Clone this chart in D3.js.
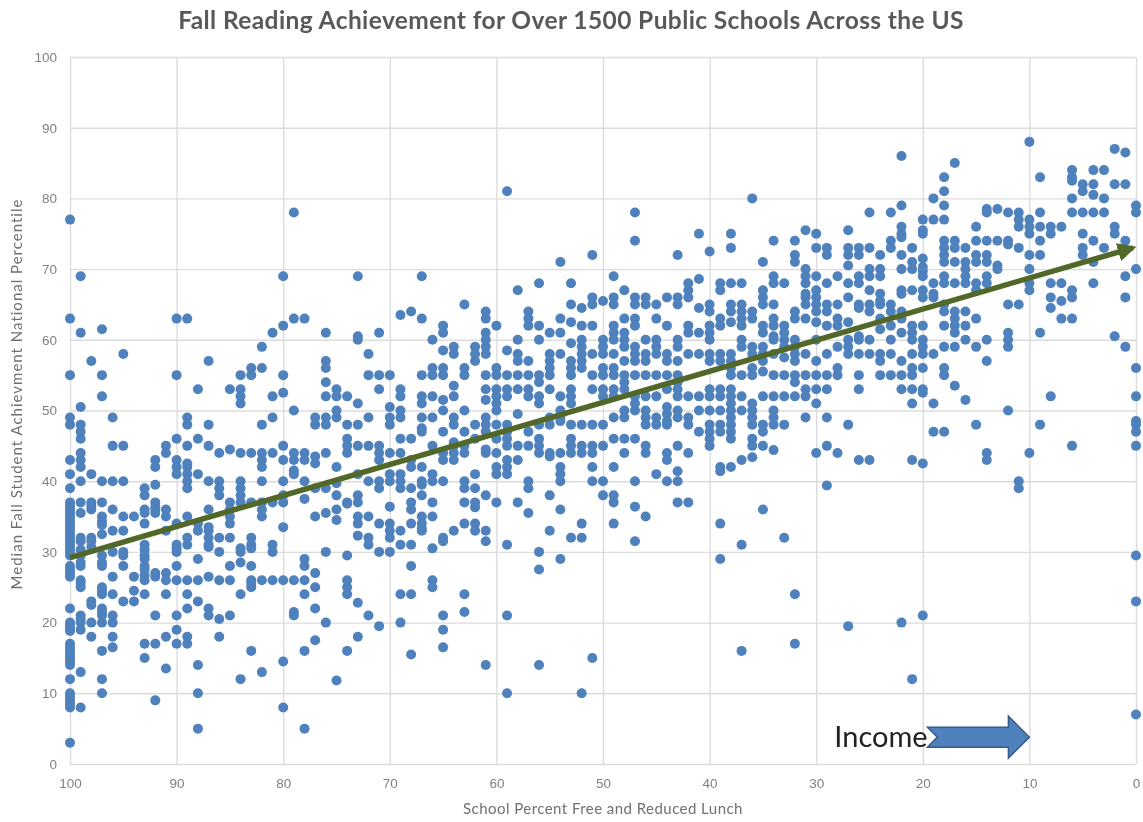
<!DOCTYPE html>
<meta charset="utf-8">
<style>
body { margin: 0; background: #fff; }
svg { display: block; font-family: Lato, "Open Sans", sans-serif; filter: blur(0.45px); }
.grid line { stroke: #dcdcdc; stroke-width: 1.4px; }
.grid path { display: none; }
.grid text { fill: #808080; font-size: 13.5px; }
.title { fill: #595959; font-size: 24.5px; font-weight: bold; text-anchor: middle; letter-spacing: 0.4px; }
.axis-title { fill: #707070; font-size: 15px; text-anchor: middle; letter-spacing: 0.45px; }
.y-title { letter-spacing: 1px; }
</style>
<body>
<script src="https://d3js.org/d3.v7.min.js"></script>
<script>

var width = 1143,
    height = 822;

var margin = {top: 57, right: 7, bottom: 58, left: 70};

var xTicks = [100, 90, 80, 70, 60, 50, 40, 30, 20, 10, 0];
var yTicks = [0, 10, 20, 30, 40, 50, 60, 70, 80, 90, 100];

// one entry per whole percent of free/reduced lunch
var lunchPercent = d3.range(100, -1, -1);

var percentiles = [
  [77,63,55,49,48,43,41,39,37,36.5,36,35.5,35,34.5,34,33.5,33,32.5,32,31.5,31,30.5,30,29.5,28,27.5,27,26.5,22,20,19.5,19,18.8,17,16.5,16,15.5,15,14.5,14,12,10,9.5,9,8.5,8,3],
  [69,61,50.5,48,47,46,44,43,42,40,37,35.5,32,31.5,30.3,29.5,28.5,28,26,25.5,25,21,20.5,20,19,13,8],
  [57,41,37,36.5,36,32,31.5,30.7,23,22.5,20,18],
  [61.5,55,52,40,37,35,34.3,33.8,32.5,29.5,28.5,28,25,24.5,24,22,21.5,21,20,16,12,10],
  [49,45,40,36,33,30,26.5,24,21,20,18,16.5],
  [58,45,40,35,33,30,29.5,28,23],
  [35,26.5,24.5,23],
  [39,38,36,35.5,34,31,30.3,29.5,29,28,27.5,26.7,26,24,17,15],
  [43,42,39.5,37,36.3,36,35.5,27,26.5,21,17,9],
  [45,44,36,35,33,27,26,24,18,13.5],
  [63,55,46,43,42,41,34,31,30.5,30,28,26,21,19,17],
  [63,49,48,45,42.5,42,41,40,39,35,32,31,26,24,22,18,17],
  [53,46,41,34,33,29,26,23,14,10,5],
  [57,48,45,40,36,33.5,33,32,31,30.7,26.5,22,21],
  [44,40,39,38,32,30,26,20.5,18],
  [53,44.5,37,36,35,34,32,28,26,21],
  [55,53,52,51,44,40,39,38,37,30.5,30,28.5,24,12],
  [56,55,44,37,32,31,30.5,28,26,25.5,25,16],
  [59,56,48,44,43,42,40,37,36,35,26,13],
  [61,52,49,44,37,31,30,26],
  [69,62,55,52.5,45,43,40,38,37,33.5,26,14.5,8],
  [78,63,50,44,43,41.5,41,26,21.5,21],
  [63,44,43,40,37.5,29,28,26,24,16,5],
  [49,48,43.5,42.5,39,35,27,25,22,17.5],
  [61,57,56,54,52,49,48,44,39,35.5,30,20],
  [53,52,50,49,42,39.7,38,36,34.5,11.8],
  [52,48,46,45,44,37,36.8,29.5,26,25,24,16],
  [69,60.5,60,51,48,45,41,38,37,35,34,32.3,22.8,18],
  [58,55,49,45,40,35,32,31,21],
  [61,55,53,45,44,43,40,39,34,30,19.5],
  [55,50.5,49,48,44,41,40,36.4,34,33,32,30],
  [63.5,53,52,50,49,46,44,41,40,39,33,31,24,20],
  [64,46,43,42,39,37,36,34,31,28,24,15.5],
  [69,63,55,52,51,49,47.5,47,42,40,39.5,38,35,34,33.3,33],
  [60,56,55,52,49,45,41,40,37,35,30.5,26,25],
  [62,61,58.5,56,55,51.5,50,47,44,43,40,32,31.5,21,19,16.5],
  [59,58,53.5,52,49,48,45.5,45,44,43,33],
  [65,56,55,50,47,45,44,40,39,37,34,24,21.5],
  [59,58,57,48,46,41,39,37,36.3,34,33],
  [64,63,61,60,59,58,55,53,51.5,49,48,47,44.5,44,38,33,31.5,14],
  [62,56,55,53,52,51,50,48,46,44,42,41,37],
  [81,58.5,55,53,52,48,47,46,45,43,42,41,31,21,10],
  [67,60,58,57,55,53,49.5,45,43,37],
  [64,63,62,57,55,53,52,47,45,40,39,35.5],
  [68,62,60,55,54,52,51,48,46,45,44,30,27.5,14],
  [61,58,57,56,55,53,49,48,44,43.5,38,33],
  [71,63,61,58,52,50,49,48.5,44,42,41,40,36,29],
  [68,65,62.5,59.5,57,56,55,53,52,51,48,46,45,44,32],
  [64.5,62,60,59,58,57,56,48,45,44,34,32,10],
  [72,66,65,62,58,55,53,48,45,44,42,40,15],
  [65.5,60,59,58,56,55,53,52,48,45,40,38],
  [69,66,65,62,61,60,58,56,55,53,52,49,46,42,38,37,34],
  [67,63,61,60,59,57,55,54,53,50,49,46,44],
  [78,74,66,65,63,62,59,58,57,55,52,51,50,46,40,36.4,31.5],
  [66,65,60,58,57,55,52,50,49,48,45,44,35],
  [65,63,60,59,58,55,52,49,48,41],
  [66,62,58,57,55,53,50.5,49.5,48.5,48,44,43,40],
  [72,66,65,60,59,57,55,54,53,52,50,49,45,41.4,40,37],
  [68,67,66,62,61,58,52,49,48,44,37],
  [75,68.6,64.5,61,58,52,50,47],
  [72.5,65,64,62,61,60,58,57,53,52,50,48,47,46,45],
  [68,67,63,62,58,57,53,52,50,48,47,42,41.4,34,29],
  [75,73,68,65,64,62.5,58,57,56,55,53,52,51,50,49,48,47,46,42],
  [68,65,64,63,62,60,59,55,52,50,43,31,16],
  [80,64,63,59,58,56,55,51,50,49,48,46,45,43.4],
  [71,67,66,65,62,61,59,58,57,55.5,52,48,47,45,36],
  [74,69,68,65,63,62,60.5,60,58,55,52,50,49,48,44.4],
  [68,62,61,60,59,57.5,55,52,48,32],
  [74,72,71,64,63,60,59,58,57,55,54,52,24,17],
  [75.5,70,69,68,66.5,66,65,63,58,55,53,52,49],
  [75,73,69,67,66,65,64,62.5,60,57,55,53,51,44],
  [73,72,68,65,64,62,58,55,53,49,45,39.4],
  [69,65,63,62,59,56,55,44],
  [75.5,73,72,70.5,68,66,62.5,60,59,58,48,19.5],
  [73,72,69,68,65,64.5,60.5,60,58,55,53,43],
  [78,73,70,69,67,65,64,60,58,43],
  [72,70,69,66.5,65.5,65,63,61.5,58,57,55],
  [78,74,73,65,64,62,60,58,55],
  [86,79,76,75,74.5,72,70,67,66.5,64,63,61,57,55,53,20],
  [73,71,70,67,62,61,60,58,56,55,53,51,43,12],
  [77,75.5,75,71.5,70.3,69.7,69,67,66,62,60,59,58,56,53,52.5,42.5,21],
  [80,77,68,66.5,66,58,51,47],
  [83,81,79,77,74,73,72,71,69,68,65,64,62,59,56,55,47],
  [85,74,73,71,68,64,63,62,61,59,53.5],
  [73,71,70,69,68,64,62,60,51.5],
  [76,74,72,71,68,67,63,59,48],
  [78.5,78,74,72,71,69,68,60,57,44,43],
  [78.5,74,70.5,70],
  [78,74,73.5,65,61,60,59,50],
  [78,77,76,73,65,40,39],
  [88,77,76,75,72,70,68,67,44],
  [83,78,76,74,72,61,48],
  [76,75,68,66,64.5,52],
  [76,68,65.5,63],
  [84,83,82.5,80,78,67,66,63,45],
  [82,81,78,75,73,72],
  [84,82,80.5,78,74,71,68],
  [84,80,78,73],
  [87,82,76,75,60.5],
  [86.5,82,74,69,66,59],
  [79,78,70,56,52,48.5,48,47,45,29.5,23,7]
];

var trendX = [100, 0.3];
var trendY = [29.2, 73];

var points = [];
lunchPercent.forEach(function(p, i) {
  percentiles[i].forEach(function(v) { points.push({x: p, y: v}); });
});

var x = d3.scaleLinear()
    .domain([100, 0])
    .range([margin.left, width - margin.right]);

var y = d3.scaleLinear()
    .domain([0, 100])
    .range([height - margin.bottom, margin.top]);

var svg = d3.select("body").append("svg")
    .attr("width", width)
    .attr("height", height);

svg.append("g")
    .attr("class", "grid")
    .attr("transform", "translate(0," + y(0) + ")")
    .call(d3.axisBottom(x).tickValues(xTicks).tickFormat(d3.format("d"))
      .tickSize(-(y(0) - y(100))).tickPadding(14));

svg.append("g")
    .attr("class", "grid")
    .attr("transform", "translate(" + x(100) + ",0)")
    .call(d3.axisLeft(y).tickValues(yTicks).tickFormat(d3.format("d"))
      .tickSize(-(x(0) - x(100))).tickPadding(13));

svg.selectAll("circle.school")
    .data(points)
    .enter()
    .append("circle")
    .attr("class", "school")
    .attr("cx", function(d) { return x(d.x); })
    .attr("cy", function(d) { return y(d.y); })
    .attr("r", 5)
    .style("fill", "#4f81bd");

svg.append("defs").append("marker")
    .attr("id", "head")
    .attr("viewBox", "0 0 10 10")
    .attr("refX", 8)
    .attr("refY", 5)
    .attr("markerWidth", 3.4)
    .attr("markerHeight", 3.4)
    .attr("orient", "auto")
    .append("path")
    .attr("d", "M0,0L10,5L0,10Z")
    .style("fill", "#526829");

svg.append("line")
    .attr("x1", x(trendX[0]))
    .attr("y1", y(trendY[0]))
    .attr("x2", x(trendX[1]))
    .attr("y2", y(trendY[1]))
    .attr("marker-end", "url(#head)")
    .style("stroke", "#526829")
    .style("stroke-width", 5.5);

// block arrow next to the Income label, tip sits on the 10 gridline
var tipX = x(10), midY = y(3.8);
var incomeArrow = [[-102, -10], [-92, 0], [-102, 10], [-21, 10], [-21, 21], [0, 0], [-21, -21], [-21, -10]];

svg.append("polygon")
    .attr("points", incomeArrow.map(function(p) { return (tipX + p[0]) + "," + (midY + p[1]); }).join(" "))
    .style("fill", "#4f81bd")
    .style("stroke", "#385d8a")
    .style("stroke-width", 1.5);

svg.append("text")
    .attr("x", x(28.3))
    .attr("y", y(3.8) + 10)
    .style("font-size", "29px")
    .style("fill", "#222")
    .text("Income");

svg.append("text")
    .attr("class", "title")
    .attr("x", 571)
    .attr("y", 29)
    .text("Fall Reading Achievement for Over 1500 Public Schools Across the US");

svg.append("text")
    .attr("class", "axis-title")
    .attr("x", 603)
    .attr("y", 814)
    .text("School Percent Free and Reduced Lunch");

svg.append("text")
    .attr("class", "axis-title y-title")
    .attr("transform", "translate(22,394) rotate(-90)")
    .text("Median Fall Student Achievment National Percentile");

</script>
